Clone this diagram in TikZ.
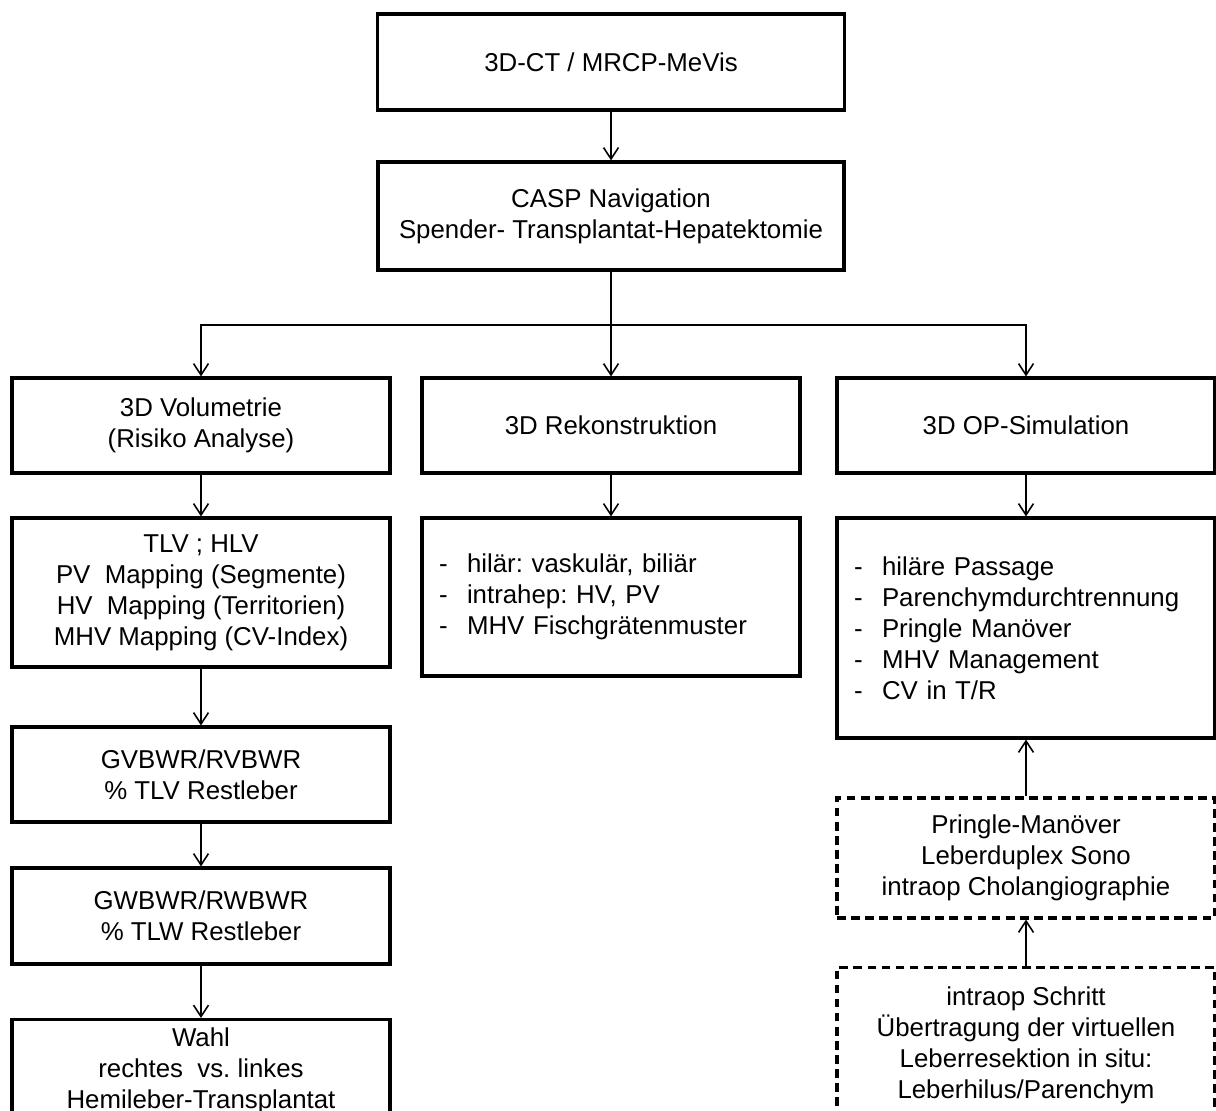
\documentclass[tikz,border=0pt]{standalone}
\usepackage{fontspec}
\setmainfont{Liberation Sans}
\usetikzlibrary{arrows.meta}
\frenchspacing
\tikzset{
  >={Straight Barb[length=6.5pt,width=8.5pt]},
  box/.style={draw, rectangle, line width=1.8pt, align=center, minimum width=7.56cm,
    font=\fontsize{14.7pt}{17.6pt}\selectfont},
  listbox/.style={box, align=left, text width=6.88cm, inner xsep=0.34cm},
  dashbox/.style={box, dash pattern=on 5pt off 3pt},
  link/.style={line width=0.9pt},
}
\newcommand{\itm}[1]{\makebox[0.56cm][l]{-}#1}
\begin{document}
\begin{tikzpicture}[x=0.02cm, y=-0.02cm]
\useasboundingbox (0,0) rectangle (1216,1111);
\fill[white] (0,0) rectangle (1216,1111);
\clip (0,0) rectangle (1216,1111);
% top of the chart
\node[box, minimum width=9.34cm, minimum height=1.92cm] (ct) at (611,62) {3D-CT / MRCP-MeVis};
\node[box, minimum width=9.32cm, minimum height=2.16cm] (casp) at (611,216) {CASP Navigation\\Spender- Transplantat-Hepatektomie};
\coordinate (split) at (611,325);
% three columns
\node[box, minimum height=1.9cm] (vol) at (201,425.5) {3D Volumetrie\\(Risiko Analyse)};
\node[box, minimum height=1.9cm] (rek) at (611,425.5) {3D Rekonstruktion};
\node[box, minimum height=1.9cm] (sim) at (1026,425.5) {3D OP-Simulation};
\node[box, minimum height=2.98cm] (map) at (201,592.5) {TLV ; HLV\\PV\ \ Mapping (Segmente)\\HV\ \ Mapping (Territorien)\\MHV Mapping (CV-Index)};
\node[listbox, minimum height=3.16cm] (hil) at (611,597) {\itm{hilär: vaskulär, biliär}\\\itm{intrahep: HV, PV}\\\itm{MHV Fischgrätenmuster}};
\node[listbox, minimum height=4.4cm] (op) at (1026,628) {\itm{hiläre Passage}\\\itm{Parenchymdurchtrennung}\\\itm{Pringle Manöver}\\\itm{MHV Management}\\\itm{CV in T/R}};
\node[box, minimum height=1.9cm] (gv) at (201,774.5) {GVBWR/RVBWR\\\% TLV Restleber};
\node[box, minimum height=1.92cm] (gw) at (201,916) {GWBWR/RWBWR\\\% TLW Restleber};
\node[box, anchor=north, inner ysep=0.16cm] (wahl) at (201,1018) {Wahl\\rechtes\ \ vs. linkes\\Hemileber-Transplantat};
\node[dashbox, minimum height=2.4cm] (tech) at (1026,858) {Pringle-Manöver\\Leberduplex Sono\\intraop Cholangiographie};
\node[dashbox, anchor=north, inner ysep=0.38cm] (intra) at (1026,966) {intraop Schritt\\Übertragung der virtuellen\\Leberresektion in situ:\\Leberhilus/Parenchym};
% connectors
\draw[link,->] (ct) -- (casp);
\draw[link] (casp) -- (split);
\draw[link,->] (split) -| (vol);
\draw[link,->] (split) -| (sim);
\draw[link,->] (split) -- (rek);
\draw[link,->] (vol) -- (map);
\draw[link,->] (rek) -- (hil);
\draw[link,->] (sim) -- (op);
\draw[link,->] (map) -- (gv);
\draw[link,->] (gv) -- (gw);
\draw[link,->] (gw) -- (wahl);
\draw[link,->] (tech) -- (op);
\draw[link,->] (intra) -- (tech);
\end{tikzpicture}
\end{document}
